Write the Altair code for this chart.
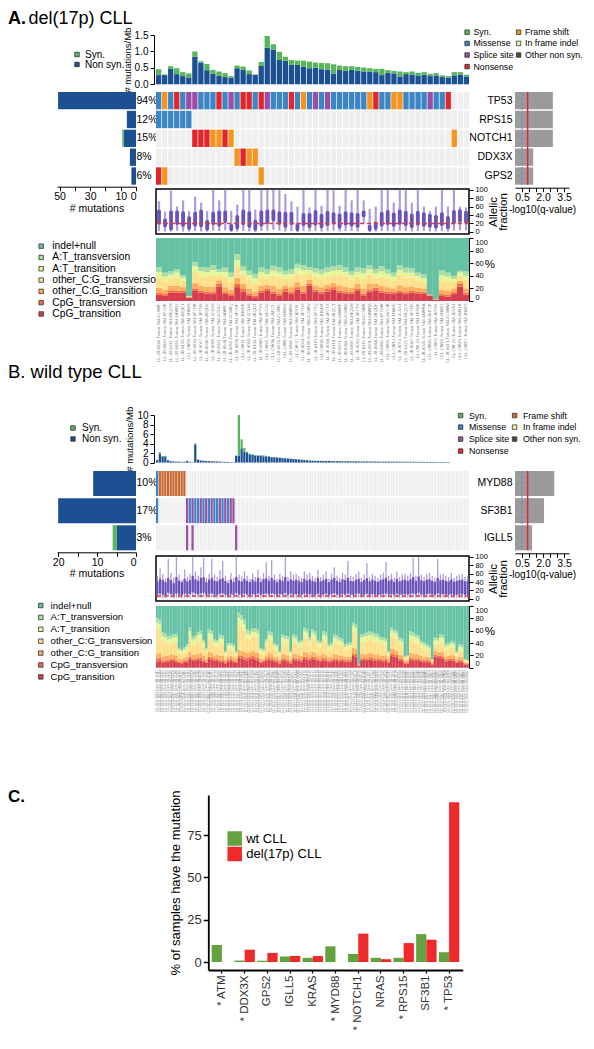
import altair as alt
import pandas as pd

FONT = "Liberation Sans"

# ---------------- colours / categories ----------------
COL_SYN = "#58b55b"
COL_NONSYN = "#1d4f93"
SYN_DOMAIN = ["Syn.", "Non syn."]
MUT_TYPES = ["Syn.", "Missense", "Splice site", "Nonsense", "Frame shift", "In frame indel", "Other non syn."]
MUT_COLS_A = ["#58b55b", "#3c86c6", "#9a4ea5", "#e3252c", "#f7941f", "#f5f39c", "#57473a"]
MUT_COLS_B = ["#58b55b", "#3c86c6", "#9a4ea5", "#e3252c", "#c6682f", "#f5f39c", "#57473a"]
CODE = {"M": "Missense", "F": "Frame shift", "N": "Nonsense", "S": "Splice site"}
SPEC_LEGEND = ["indel+null", "A:T_transversion", "A:T_transition", "other_C:G_transversion",
               "other_C:G_transition", "CpG_transversion", "CpG_transition"]
SPEC_COLS = ["#66c2a5", "#abdda4", "#e6f598", "#fee08b", "#fdae61", "#f46d43", "#d53e4f"]

# ---------------- Panel A : del(17p) CLL ----------------
A_label = ["A.", "del(17p) CLL"]
A_samples = [
    "LL-JB-8038-Tumor-SM-4C5WF", "LL-JB-8049-Tumor-SM-3P7UK", "LL-JB-8132-Tumor-SM-4BQCH",
    "LL-JB-8065-Tumor-SM-4AWR2", "LL-JB-8126-Tumor-SM-4BQE1", "CLL-CW20-Tumor-SM-1N8E8",
    "LL-JB-8033-Tumor-SM-3P7UB", "LL-JB-8047-Tumor-SM-3P7U8", "LL-JB-8036-Tumor-SM-4BQD9",
    "LL-JB-8085-Tumor-SM-4C5X3", "LL-JB-8041-Tumor-SM-4C5XC", "LL-JB-8048-Tumor-SM-4AWRJ",
    "LL-JB-8052-Tumor-SM-4C5WQ", "LL-JB-8096-Tumor-SM-3P7UF", "CLL-CW11-Tumor-SM-1N8DK",
    "LL-JB-8060-Tumor-SM-4C5X8", "LL-JB-8103-Tumor-SM-4BQDT", "LL-JB-8080-Tumor-SM-3P7V2",
    "CLL-CW25-Tumor-SM-2A7OD", "CLL-CW36-Tumor-SM-2M7ZL", "LL-JB-8078-Tumor-SM-4C5WZ",
    "CLL-CW8-Tumor-SM-1N8EG", "LL-JB-8089-Tumor-SM-4AWR5", "LL-CW-17-Tumor-SM-1EV9L",
    "LL-JB-8043-Tumor-SM-3P7U3", "LL-JB-8105-Tumor-SM-4C5WU", "LL-JB-8110-Tumor-SM-3P7TQ",
    "CLL-CW18-Tumor-SM-1N8ER", "LL-JB-8058-Tumor-SM-3P7TX", "LL-JB-8118-Tumor-SM-4BQCT",
    "LL-JB-8071-Tumor-SM-4AWRF", "LL-JB-8063-Tumor-SM-4C5WD", "LL-JB-8099-Tumor-SM-4BQDN",
    "LL-JB-8092-Tumor-SM-3P7TV", "LL-JB-8115-Tumor-SM-4C5WK", "LL-JB-8101-Tumor-SM-4AWR8",
    "LL-JB-8068-Tumor-SM-4BQDF", "LL-JB-8055-Tumor-SM-3P7UW", "CLL-CW29-Tumor-SM-2A7OB",
    "CLL-CW14-Tumor-SM-1N8D5", "LL-JB-8074-Tumor-SM-4C5X1", "LL-JB-8122-Tumor-SM-4BQCX",
    "LL-JB-8087-Tumor-SM-3P7U5", "LL-CW-24-Tumor-SM-1EV8K", "LL-JB-8045-Tumor-SM-4AWRA",
    "CLL-CW33-Tumor-SM-2M7ZP", "LL-CW-5-Tumor-SM-1EV54", "CLL-CW22-Tumor-SM-1N8E2",
    "LL-JB-8113-Tumor-SM-4C5WM", "LL-CW-19-Tumor-SM-1EV61", "CLL-CW40-Tumor-SM-2M81A",
    "CLL-CW27-Tumor-SM-1N8F5",
]
A_rate_nonsyn = [0.28, 0.28, 0.47, 0.31, 0.25, 0.21, 0.84, 0.66, 0.43, 0.32,
                 0.26, 0.22, 0.20, 0.49, 0.45, 0.31, 0.29, 0.56, 1.11, 1.05,
                 0.74, 0.72, 0.59, 0.59, 0.53, 0.49, 0.51, 0.46, 0.44, 0.33,
                 0.44, 0.41, 0.44, 0.41, 0.39, 0.39, 0.37, 0.28, 0.35, 0.33,
                 0.24, 0.31, 0.30, 0.27, 0.29, 0.25, 0.27, 0.22, 0.20, 0.27,
                 0.30, 0.24]
A_rate_syn = [0.18, 0.02, 0.08, 0.18, 0.12, 0.12, 0.16, 0.04, 0.19, 0.12,
              0.13, 0.12, 0.05, 0.08, 0.09, 0.11, 0.01, 0.12, 0.36, 0.17,
              0.25, 0.12, 0.15, 0.13, 0.19, 0.20, 0.15, 0.19, 0.20, 0.28,
              0.13, 0.14, 0.11, 0.12, 0.12, 0.10, 0.10, 0.19, 0.08, 0.08,
              0.15, 0.06, 0.09, 0.08, 0.08, 0.07, 0.07, 0.05, 0.05, 0.10,
              0.07, 0.05]
A_genes = ["TP53", "RPS15", "NOTCH1", "DDX3X", "GPS2"]
A_pct = ["94%", "12%", "15%", "8%", "6%"]
A_count_nonsyn = [51, 6, 8, 4, 3]
A_count_syn = [0, 0, 1, 0, 0]
A_qval = [2.7, 2.7, 2.7, 1.3, 1.3]
A_TP53 = "MFMNMSSMMM NMSMNNMNSM MMNMFMSMSM MMMMMFNMMF FMMMMSMMN. .."
A_other = {
    "RPS15": {1: "M", 2: "M", 3: "M", 4: "M", 5: "M", 6: "M"},
    "NOTCH1": {7: "N", 8: "N", 9: "N", 10: "F", 11: "F", 12: "N", 13: "F", 50: "F"},
    "DDX3X": {14: "F", 15: "N", 16: "F", 17: "F"},
    "GPS2": {1: "N", 2: "F", 18: "F"},
}
A_af_lo = [2, 1, 1, 3, 1, 1, 2, 1, 1, 3, 2, 4, 0, 1, 2, 1, 0, 2, 3, 5, 3, 1, 2, 0, 2, 1,
           2, 1, 2, 3, 1, 2, 2, 1, 20, 0, 1, 2, 2, 1, 3, 2, 1, 2, 2, 1, 1, 2, 1, 3, 4, 3]
A_af_q1 = [18, 11, 4, 17, 12, 5, 13, 11, 3, 16, 13, 21, 2, 6, 16, 10, 3, 13, 19, 25, 17, 10, 16, 2, 14, 9,
           15, 9, 14, 18, 8, 15, 13, 10, 35, 2, 5, 13, 16, 12, 17, 14, 9, 15, 12, 10, 8, 14, 6, 18, 22, 19]
A_af_q3 = [53, 32, 51, 51, 49, 37, 48, 53, 28, 48, 51, 51, 19, 40, 53, 49, 29, 51, 53, 53, 49, 48, 48, 21, 45, 45,
           52, 43, 50, 47, 44, 49, 47, 45, 51, 17, 25, 48, 52, 46, 53, 50, 44, 50, 47, 43, 40, 47, 38, 52, 54, 50]
A_af_hi = [73, 48, 98, 60, 75, 50, 84, 70, 50, 100, 75, 100, 50, 65, 100, 100, 53, 100, 100, 100, 100, 90, 73, 60, 100, 58,
           100, 62, 100, 100, 62, 100, 75, 100, 75, 55, 60, 100, 100, 70, 100, 100, 70, 100, 60, 50, 60, 100, 60, 100, 60, 58]
A_af_cut = [20]
A_spec = {
    "CpG_transition": [10, 8, 13, 13, 13, 5, 16, 13, 12, 11, 23, 11, 8, 22, 15, 9, 6, 13, 16, 12, 8, 15, 11, 18, 12, 24,
                       15, 12, 15, 18, 13, 12, 11, 16, 9, 15, 17, 13, 12, 11, 13, 11, 13, 12, 11, 8, 2, 8, 7, 11, 23, 10],
    "CpG_transversion": [3, 3, 4, 3, 3, 1, 4, 3, 3, 3, 4, 3, 3, 5, 4, 3, 2, 3, 4, 3, 3, 4, 3, 4, 3, 4,
                         3, 3, 4, 4, 3, 3, 3, 4, 3, 3, 4, 3, 3, 3, 3, 3, 3, 3, 3, 1, 0, 3, 3, 3, 4, 3],
    "other_C:G_transition": [8, 7, 7, 8, 6, 1, 9, 8, 8, 9, 6, 8, 7, 10, 8, 7, 7, 8, 6, 9, 8, 6, 8, 8, 9, 6,
                             7, 7, 7, 7, 9, 8, 7, 7, 8, 9, 6, 8, 7, 6, 9, 8, 7, 6, 6, 1, 1, 7, 7, 6, 5, 7],
    "other_C:G_transversion": [16, 13, 12, 13, 10, 1, 17, 15, 15, 17, 8, 16, 13, 18, 14, 14, 13, 14, 10, 16, 17, 11, 14, 14, 17, 10,
                               13, 13, 13, 12, 16, 15, 13, 12, 16, 15, 10, 15, 14, 12, 16, 15, 14, 12, 10, 0, 0, 15, 14, 10, 8, 13],
    "A:T_transition": [9, 8, 6, 8, 5, 0, 9, 8, 8, 9, 5, 8, 7, 10, 7, 8, 8, 8, 7, 8, 9, 6, 7, 8, 8, 5,
                       7, 8, 7, 7, 8, 8, 7, 7, 8, 8, 7, 8, 7, 7, 8, 8, 8, 7, 6, 0, 0, 8, 8, 5, 5, 7],
    "A:T_transversion": [8, 6, 5, 5, 4, 0, 7, 7, 7, 8, 4, 7, 7, 9, 7, 7, 7, 7, 7, 8, 9, 6, 7, 7, 8, 5,
                         7, 7, 7, 7, 8, 8, 6, 7, 8, 7, 7, 8, 7, 6, 8, 8, 7, 5, 6, 0, 0, 8, 6, 5, 3, 7],
}

# ---------------- Panel B : wild type CLL ----------------
B_label = ["B. wild type CLL"]
B_samples = [
    "CLL-GCLL-0003-Tumor-SM-41JA1", "CLL-GCLL-0011-Tumor-SM-41JB4", "CLL-GCLL-0015-Tumor-SM-41JC7", "CLL-GCLL-0019-Tumor-SM-41JD2", "CLL-GCLL-0024-Tumor-SM-41JE9",
    "CLL-GCLL-0027-Tumor-SM-41JF3", "CLL-GCLL-0031-Tumor-SM-41JG6", "CLL-GCLL-0036-Tumor-SM-41JH8", "CLL-GCLL-0040-Tumor-SM-41JK5", "CLL-GCLL-0044-Tumor-SM-41JL2",
    "CLL-GCLL-0048-Tumor-SM-41JM7", "CLL-GCLL-0052-Tumor-SM-41JN1", "CLL-GCLL-0055-Tumor-SM-41JP4", "CLL-GCLL-0059-Tumor-SM-41JQ9", "CLL-GCLL-0062-Tumor-SM-41JR3",
    "CLL-GCLL-0066-Tumor-SM-41JS6", "CLL-GCLL-0070-Tumor-SM-41JT8", "CLL-GCLL-0073-Tumor-SM-41JU2", "CLL-GCLL-0077-Tumor-SM-41JV5", "CLL-GCLL-0081-Tumor-SM-41JW7",
    "CLL-GCLL-0084-Tumor-SM-41JX1", "CLL-GCLL-0088-Tumor-SM-41JY4", "CLL-GCLL-0092-Tumor-SM-41JZ6", "CLL-GCLL-0095-Tumor-SM-41K12", "CLL-GCLL-0099-Tumor-SM-41K25",
    "CLL-GCLL-0103-Tumor-SM-41K38", "CLL-GCLL-0106-Tumor-SM-41K41", "CLL-GCLL-0110-Tumor-SM-41K57", "CLL-GCLL-0113-Tumor-SM-41K63", "CLL-GCLL-0117-Tumor-SM-41K79",
    "CLL-GCLL-0121-Tumor-SM-41K84", "CLL-GCLL-0124-Tumor-SM-41K92", "CLL-GCLL-0128-Tumor-SM-41KA3", "CLL-GCLL-0132-Tumor-SM-41KB6", "CLL-GCLL-0135-Tumor-SM-41KC1",
    "CLL-GCLL-0139-Tumor-SM-41KD8", "CLL-GCLL-0143-Tumor-SM-41KE2", "CLL-GCLL-0146-Tumor-SM-41KF5", "CLL-GCLL-0150-Tumor-SM-41KG9", "CLL-GCLL-0154-Tumor-SM-41KH3",
    "CLL-GCLL-0157-Tumor-SM-41KJ7", "CLL-GCLL-0161-Tumor-SM-41KK4", "CLL-GCLL-0165-Tumor-SM-41KL1", "CLL-GCLL-0168-Tumor-SM-41KM6", "CLL-GCLL-0172-Tumor-SM-41KN8",
    "CLL-GCLL-0176-Tumor-SM-41KP2", "CLL-GCLL-0179-Tumor-SM-41KQ5", "CLL-GCLL-0183-Tumor-SM-41KR9", "CLL-GCLL-0187-Tumor-SM-41KS3", "CLL-GCLL-0190-Tumor-SM-41KT7",
    "CLL-GCLL-0194-Tumor-SM-41KU1", "CLL-GCLL-0198-Tumor-SM-41KV4", "CLL-GCLL-0201-Tumor-SM-41KW8", "CLL-GCLL-0205-Tumor-SM-41KX2", "CLL-GCLL-0209-Tumor-SM-41KY6",
    "CLL-GCLL-0212-Tumor-SM-41KZ9", "CLL-GCLL-0216-Tumor-SM-41L13", "CLL-GCLL-0220-Tumor-SM-41L27", "CLL-GCLL-0223-Tumor-SM-41L34", "CLL-GCLL-0227-Tumor-SM-41L48",
    "CLL-GCLL-0231-Tumor-SM-41L52", "CLL-GCLL-0234-Tumor-SM-41L69", "CLL-GCLL-0238-Tumor-SM-41L71", "CLL-GCLL-0242-Tumor-SM-41L86", "CLL-GCLL-0245-Tumor-SM-41L95",
    "CLL-GCLL-0249-Tumor-SM-41LA2", "CLL-GCLL-0253-Tumor-SM-41LB7", "CLL-GCLL-0256-Tumor-SM-41LC3", "CLL-GCLL-0260-Tumor-SM-41LD9", "CLL-GCLL-0264-Tumor-SM-41LE4",
    "CLL-GCLL-0267-Tumor-SM-41LF1", "CLL-GCLL-0271-Tumor-SM-41LG8", "CLL-GCLL-0275-Tumor-SM-41LH5", "CLL-GCLL-0278-Tumor-SM-41LJ2", "CLL-GCLL-0282-Tumor-SM-41LK6",
    "CLL-GCLL-0286-Tumor-SM-41LL9", "CLL-GCLL-0289-Tumor-SM-41LM3", "CLL-GCLL-0293-Tumor-SM-41LN7", "CLL-GCLL-0297-Tumor-SM-41LP1", "CLL-GCLL-0300-Tumor-SM-41LQ4",
    "CLL-GCLL-0304-Tumor-SM-41LR8", "CLL-GCLL-0308-Tumor-SM-41LS2", "CLL-GCLL-0311-Tumor-SM-41LT6", "CLL-GCLL-0315-Tumor-SM-41LU9", "CLL-GCLL-0319-Tumor-SM-41LV3",
    "CLL-GCLL-0322-Tumor-SM-41LW7", "CLL-GCLL-0326-Tumor-SM-41LX1", "CLL-GCLL-0330-Tumor-SM-41LY5", "CLL-GCLL-0333-Tumor-SM-41LZ8", "CLL-GCLL-0337-Tumor-SM-41M14",
    "CLL-GCLL-0341-Tumor-SM-41M28", "CLL-GCLL-0344-Tumor-SM-41M33", "CLL-GCLL-0348-Tumor-SM-41M47", "CLL-GCLL-0352-Tumor-SM-41M51", "CLL-GCLL-0355-Tumor-SM-41M66",
    "CLL-GCLL-0359-Tumor-SM-41M72", "CLL-GCLL-0363-Tumor-SM-41M89", "CLL-GCLL-0366-Tumor-SM-41M93", "CLL-GCLL-0370-Tumor-SM-41MA5", "CLL-GCLL-0374-Tumor-SM-41MB1",
    "CLL-GCLL-0377-Tumor-SM-41MC8", "CLL-GCLL-0381-Tumor-SM-41MD4", "CLL-GCLL-0385-Tumor-SM-41ME7", "CLL-GCLL-0388-Tumor-SM-41MF2", "CLL-GCLL-0392-Tumor-SM-41MG6",
    "CLL-GCLL-0396-Tumor-SM-41MH9", "CLL-GCLL-0399-Tumor-SM-41MJ3", "CLL-GCLL-0403-Tumor-SM-41MK8", "CLL-GCLL-0407-Tumor-SM-41ML2", "CLL-GCLL-0410-Tumor-SM-41MM5",
    "CLL-GCLL-0414-Tumor-SM-41MN9", "CLL-GCLL-0418-Tumor-SM-41MP4", "CLL-GCLL-0421-Tumor-SM-41MQ7", "CLL-GCLL-0425-Tumor-SM-41MR1", "CLL-GCLL-0429-Tumor-SM-41MS6",
]
B_rate_nonsyn = [0.5, 1.9, 1.3, 1.3, 0.5, 0.3, 0.25, 0.2, 0.2, 0.15,
                 0.2, 0.35, 0.15, 0.1, 3.8, 0.6, 0.45, 0.4, 0.35, 0.3,
                 0.3, 0.25, 0.25, 0.2, 0.2, 0.15, 0.15, 0.1, 0.1, 1.4,
                 1.5, 3.0, 2.3, 2.0, 1.7, 1.6, 1.5, 1.45, 1.4, 1.35,
                 1.3, 1.25, 1.15, 1.1, 1.05, 1.0, 0.95, 0.9, 0.85, 0.8,
                 0.75, 0.7, 0.65, 0.6, 0.55, 0.5, 0.45, 0.4, 0.38, 0.37,
                 0.36, 0.35, 0.34, 0.33, 0.32, 0.31, 0.3, 0.3, 0.29, 0.28,
                 0.28, 0.27, 0.27, 0.26, 0.26, 0.25, 0.25, 0.24, 0.24, 0.23,
                 0.23, 0.22, 0.22, 0.21, 0.21, 0.2, 0.2, 0.2, 0.19, 0.19,
                 0.18, 0.18, 0.18, 0.17, 0.17, 0.16, 0.16, 0.16, 0.15, 0.15,
                 0.14, 0.14, 0.13, 0.13, 0.12, 0.12, 0.11, 0.1, 0, 0,
                 0, 0, 0, 0, 0]
B_rate_syn = [0.1, 0.3, 0.1, 0.05, 0.05, 0, 0, 0, 0, 0,
              0, 0.05, 0, 0, 0.2, 0.05, 0, 0, 0, 0,
              0, 0, 0, 0, 0, 0, 0, 0, 0, 0.1,
              8.5, 1.9, 0.8, 0.3, 0.2, 0.15, 0.1, 0.1, 0.15, 0.2,
              0.1, 0.15, 0.05, 0.1, 0.05, 0.05, 0.05, 0.1, 0.05, 0.05,
              0.05, 0, 0.05, 0.05, 0, 0.05, 0, 0.05, 0, 0,
              0.05, 0, 0, 0.05, 0, 0, 0, 0.05, 0, 0,
              0, 0, 0.05, 0, 0, 0, 0, 0, 0.05, 0,
              0, 0, 0, 0, 0, 0.05, 0, 0, 0, 0,
              0, 0, 0, 0, 0, 0, 0, 0, 0, 0,
              0, 0, 0, 0, 0, 0, 0, 0, 0, 0,
              0, 0, 0, 0, 0]
B_genes = ["MYD88", "SF3B1", "IGLL5"]
B_pct = ["10%", "17%", "3%"]
B_count_nonsyn = [11, 20, 5]
B_count_syn = [0, 0, 1]
B_qval = [2.8, 2.07, 1.22]
B_cells = {
    "MYD88": {1: "M", 2: "F", 3: "F", 4: "F", 5: "F", 6: "F", 7: "F", 8: "F", 9: "F", 10: "F", 11: "F"},
    "SF3B1": {1: "M", 12: "S", 13: "M", 14: "S", 15: "M", 16: "M", 17: "S", 18: "M", 19: "S", 20: "M",
              21: "S", 22: "M", 23: "M", 24: "S", 25: "M", 26: "S", 27: "M", 28: "S", 29: "S"},
    "IGLL5": {12: "S", 14: "S", 30: "S"},
}
B_af_lo = [2, 3, 1, 1, 4, 2, 1, 3, 2, 1, 3, 2, 2, 4, 3, 2, 3, 4, 1, 2, 3, 2, 1, 3, 3, 2, 1, 2, 1, 4,
           2, 1, 3, 2, 1, 2, 1, 3, 1, 2, 3, 2, 3, 2, 1, 2, 2, 4, 1, 3,
           2, 2, 2, 1, 3, 2, 2, 2, 1, 3, 1, 2, 3, 1, 2, 3, 2, 1, 2, 2,
           3, 2, 1, 2, 3, 1, 2, 3, 1, 2, 2, 1, 2, 2, 3, 2, 2, 1, 3, 2,
           2, 2, 2, 2, 3, 2, 4, 2, 1, 2, 3, 2, 1, 3, 2, 2, 2, 1, 2, 1, 2, 2, 2, 1, 2]
B_af_q1 = [10, 12, 9, 8, 14, 11, 9, 13, 10, 8, 12, 10, 11, 15, 12, 10, 13, 14, 9, 11, 13, 10, 9, 12, 13, 10, 8, 11, 9, 14,
           10, 9, 12, 10, 8, 11, 9, 13, 9, 11, 12, 10, 13, 11, 9, 11, 10, 14, 9, 12,
           10, 11, 10, 9, 12, 10, 11, 10, 9, 12, 9, 10, 12, 8, 11, 13, 10, 9, 11, 10,
           13, 10, 9, 11, 12, 9, 10, 12, 9, 11, 10, 9, 10, 11, 13, 10, 11, 9, 12, 10,
           10, 11, 10, 11, 13, 10, 14, 10, 9, 11, 12, 10, 9, 13, 10, 11, 10, 9, 11, 9, 10, 10, 11, 9, 10]
B_af_q3 = [42, 48, 45, 40, 50, 45, 38, 52, 44, 40, 48, 42, 45, 55, 47, 43, 50, 52, 40, 46, 50, 44, 42, 47, 49, 43, 38, 46, 41, 52,
           44, 42, 48, 43, 40, 46, 42, 50, 41, 47, 49, 43, 50, 45, 40, 46, 43, 52, 42, 47,
           44, 46, 43, 41, 48, 44, 47, 43, 41, 50, 42, 45, 48, 40, 46, 50, 43, 41, 47, 45,
           50, 43, 42, 46, 48, 41, 45, 49, 42, 46, 43, 41, 45, 47, 50, 43, 46, 41, 48, 42,
           45, 46, 43, 47, 52, 43, 53, 45, 42, 46, 47, 43, 41, 50, 45, 46, 43, 42, 47, 41, 43, 45, 46, 42, 43]
B_af_hi = [55, 72, 60, 48, 95, 62, 50, 100, 58, 45, 70, 52, 60, 100, 65, 55, 75, 98, 50, 60, 95, 58, 52, 68, 90, 55, 45, 62, 50, 100,
           58, 53, 66, 55, 48, 60, 52, 70, 50, 62, 88, 55, 92, 58, 48, 60, 55, 100, 52, 66,
           58, 60, 55, 50, 65, 58, 62, 55, 50, 70, 52, 58, 66, 48, 60, 75, 55, 50, 62, 58,
           90, 55, 52, 60, 65, 50, 58, 85, 52, 60, 55, 50, 58, 62, 88, 55, 60, 50, 65, 52,
           58, 60, 55, 62, 98, 55, 100, 58, 52, 60, 62, 55, 50, 95, 58, 60, 55, 52, 62, 50, 55, 58, 60, 52, 55]
B_af_cut = [7]
B_spec = {
    "CpG_transition": [10, 12, 8, 9, 10, 12, 11, 9, 8, 7, 10, 9, 14, 12, 11, 13, 12, 10, 8, 14,
                       13, 11, 12, 9, 10, 7, 10, 11, 9, 8, 16, 15, 13, 12, 14, 15, 13, 12, 8, 9,
                       11, 13, 12, 10, 9, 7, 12, 11, 10, 7, 13, 12, 11, 10, 14, 13, 12, 14, 13, 11,
                       10, 12, 11, 9, 10, 12, 11, 10, 11, 9, 10, 10, 19, 18, 3, 12, 13, 12, 13, 12,
                       11, 12, 11, 10, 11, 8, 19, 18, 17, 12, 11, 6, 7, 13, 12, 12, 11, 10, 9, 10,
                       9, 5, 18, 17, 16, 15, 10, 11, 12, 11, 8, 10, 9, 5, 4],
    "CpG_transversion": [4, 4, 3, 3, 3, 3, 3, 3, 2, 2, 2, 3, 4, 3, 3, 3, 4, 3, 2, 4,
                         4, 3, 3, 3, 3, 2, 3, 3, 3, 2, 4, 4, 4, 4, 4, 4, 4, 4, 2, 2,
                         3, 4, 3, 3, 3, 2, 3, 3, 3, 2, 3, 3, 3, 3, 4, 4, 3, 4, 4, 3,
                         3, 4, 3, 3, 3, 3, 3, 3, 3, 3, 3, 3, 4, 4, 1, 3, 3, 3, 4, 4,
                         3, 3, 3, 3, 3, 2, 4, 4, 4, 3, 3, 2, 2, 4, 3, 3, 3, 3, 3, 3,
                         3, 2, 3, 3, 3, 3, 3, 3, 3, 3, 2, 3, 3, 2, 2],
    "other_C:G_transition": [9, 8, 7, 7, 6, 7, 7, 8, 5, 5, 5, 6, 8, 6, 7, 7, 8, 6, 5, 8,
                             7, 6, 6, 7, 7, 4, 5, 5, 5, 4, 9, 9, 9, 8, 7, 8, 8, 8, 5, 4,
                             6, 7, 7, 5, 5, 4, 7, 7, 7, 4, 7, 7, 6, 6, 8, 8, 6, 8, 7, 6,
                             6, 7, 7, 5, 5, 7, 7, 6, 6, 5, 5, 5, 9, 9, 1, 7, 7, 7, 7, 7,
                             7, 7, 6, 6, 6, 4, 8, 8, 7, 6, 6, 3, 3, 7, 7, 7, 7, 6, 5, 5,
                             5, 2, 6, 6, 7, 7, 5, 5, 6, 6, 4, 5, 5, 2, 2],
    "other_C:G_transversion": [40, 37, 25, 22, 19, 17, 20, 22, 9, 9, 8, 11, 24, 17, 18, 21, 22, 15, 9, 22,
                               22, 15, 13, 21, 19, 7, 12, 11, 11, 6, 40, 38, 34, 24, 21, 23, 25, 24, 9, 8,
                               15, 21, 21, 12, 11, 7, 19, 18, 18, 7, 18, 17, 13, 15, 25, 24, 16, 22, 21, 14,
                               13, 22, 22, 11, 12, 19, 18, 18, 15, 11, 12, 13, 27, 25, 0, 19, 19, 21, 21, 21,
                               21, 19, 18, 18, 16, 6, 21, 19, 19, 16, 15, 4, 4, 21, 21, 19, 18, 14, 14, 10,
                               10, 3, 12, 12, 16, 16, 10, 11, 12, 12, 6, 10, 10, 3, 2],
    "A:T_transition": [10, 10, 8, 8, 8, 8, 8, 8, 5, 4, 5, 5, 9, 7, 8, 8, 8, 7, 5, 8,
                       8, 7, 7, 8, 8, 4, 6, 6, 6, 4, 12, 11, 11, 8, 8, 8, 8, 8, 5, 4,
                       7, 8, 8, 6, 6, 4, 8, 8, 8, 4, 8, 8, 6, 7, 8, 8, 7, 8, 8, 7,
                       7, 8, 8, 6, 6, 8, 8, 7, 7, 6, 6, 6, 8, 8, 0, 8, 8, 8, 8, 8,
                       8, 8, 7, 7, 7, 4, 8, 8, 8, 7, 7, 2, 2, 8, 8, 8, 8, 6, 6, 6,
                       5, 1, 6, 6, 7, 7, 6, 6, 6, 6, 4, 6, 6, 1, 1],
    "A:T_transversion": [7, 7, 6, 6, 5, 5, 5, 5, 3, 3, 3, 4, 6, 5, 5, 6, 6, 4, 3, 6,
                         6, 4, 4, 6, 5, 3, 4, 4, 4, 3, 8, 8, 7, 6, 6, 6, 6, 6, 3, 3,
                         4, 6, 6, 4, 4, 3, 5, 5, 5, 3, 5, 5, 4, 4, 6, 6, 5, 6, 6, 4,
                         4, 6, 6, 4, 4, 5, 5, 5, 5, 4, 4, 4, 6, 6, 0, 5, 5, 6, 6, 6,
                         6, 5, 5, 5, 5, 3, 5, 5, 5, 5, 5, 2, 2, 6, 6, 5, 5, 4, 4, 4,
                         4, 1, 4, 4, 5, 5, 4, 4, 4, 4, 3, 4, 4, 1, 1],
}

# ---------------- Panel C ----------------
C_label = ["C."]
C_genes = ["*  ATM", "*  DDX3X", "GPS2", "IGLL5", "KRAS", "*  MYD88", "*  NOTCH1",
           "NRAS", "*  RPS15", "SF3B1", "*  TP53"]
C_groups = ["wt CLL", "del(17p) CLL"]
C_wt = [10.1, 0.9, 0.8, 3.3, 2.5, 9.3, 4.8, 2.5, 2.5, 16.5, 5.8]
C_del = [0, 7.3, 5.4, 3.6, 3.6, 0, 16.8, 1.7, 11.2, 13.2, 94.4]
C_cols = ["#63a23f", "#ee2a2a"]

Q_TICKS = [0.5, 1.0, 1.5, 2.0, 2.5, 3.0, 3.5]
Q_LABELLED = [0.5, 2.0, 3.5]
Q_DASH = [0.5]
Q_CUT = [0.9]

for lst in [A_rate_nonsyn, A_rate_syn, A_af_lo, A_af_q1, A_af_q3, A_af_hi] + list(A_spec.values()):
    assert len(lst) == len(A_samples), len(lst)
for lst in [B_rate_nonsyn, B_rate_syn, B_af_lo, B_af_q1, B_af_q3, B_af_hi] + list(B_spec.values()):
    assert len(lst) == len(B_samples), len(lst)
assert len(A_TP53.replace(" ", "")) == len(A_samples)

# ---------------- layout sizes ----------------
COLW = [79, 19.3, 313, 46, 54]


def spacer(w, h):
    return alt.Chart(pd.DataFrame({"s": [0]})).mark_point(opacity=0, size=1).encode(
        x=alt.value(0), y=alt.value(0)).properties(width=w, height=h)


def text_cell(items, w, h):
    layers = []
    for txt, x, y, size, weight, base in items:
        layers.append(alt.Chart(pd.DataFrame({"t": [txt]})).mark_text(
            align="left", baseline=base, fontSize=size, fontWeight=weight, font=FONT,
            color="black").encode(text="t:N", x=alt.value(x), y=alt.value(y)))
    return alt.layer(*layers).properties(width=w, height=h)


def xsc(samples, pad):
    return alt.Scale(domain=samples, paddingInner=pad, paddingOuter=0)


def top_bars(samples, ns, sy, ymax, yvals, yfmt, H, xpad, leg):
    rows = []
    for s, a, b in zip(samples, ns, sy):
        rows.append({"sample": s, "type": "Non syn.", "v": a, "o": 0})
        rows.append({"sample": s, "type": "Syn.", "v": b, "o": 1})
    return alt.Chart(pd.DataFrame(rows)).mark_bar().encode(
        x=alt.X("sample:N", sort=samples, scale=xsc(samples, xpad), axis=None),
        y=alt.Y("v:Q", stack="zero", scale=alt.Scale(domain=[0, ymax], nice=False),
                axis=alt.Axis(values=yvals, format=yfmt, title="# mutations/Mb", titleFontSize=9.5,
                              labelFontSize=10, tickSize=4, labelPadding=2, titlePadding=2, offset=2,
                              labelOverlap=False)),
        color=alt.Color("type:N", scale=alt.Scale(domain=SYN_DOMAIN, range=[COL_SYN, COL_NONSYN]),
                        legend=alt.Legend(**leg)),
        order=alt.Order("o:Q"),
    ).properties(width=COLW[2], height=H)


def yband(keys):
    return alt.Scale(domain=keys, paddingInner=0.08, paddingOuter=0)


def left_bars(keys, ns, sy, xmax, ticks, shown, H):
    rows = []
    for k, a, b in zip(keys, ns, sy):
        rows.append({"key": k, "type": "Non syn.", "n": a, "o": 0})
        rows.append({"key": k, "type": "Syn.", "n": b, "o": 1})
    expr = "indexof(%s, datum.value) >= 0 ? datum.label : ''" % str(shown)
    return alt.Chart(pd.DataFrame(rows)).mark_bar().encode(
        y=alt.Y("key:N", sort=keys, scale=yband(keys),
                axis=alt.Axis(orient="right", labelExpr="split(datum.label, '|')[1]", ticks=False,
                              domain=False, labelAlign="left", labelPadding=0, labelFontSize=10.5,
                              title=None)),
        x=alt.X("n:Q", stack="zero", scale=alt.Scale(domain=[0, xmax], reverse=True, nice=False),
                axis=alt.Axis(values=ticks, labelExpr=expr, title="# mutations", titleFontSize=10.5,
                              labelFontSize=10.5, tickSize=4, labelPadding=1, titlePadding=1, offset=2,
                              labelOverlap=False)),
        color=alt.Color("type:N", scale=alt.Scale(domain=SYN_DOMAIN, range=[COL_SYN, COL_NONSYN]),
                        legend=None),
        order=alt.Order("o:Q"),
    ).properties(width=COLW[0], height=H)


def onco(samples, keys, cells, colors, xpad, H, leg):
    bg = pd.DataFrame([{"sample": s, "key": k} for k in keys for s in samples])
    mut = pd.DataFrame(cells)
    xs = alt.X("sample:N", sort=samples, scale=xsc(samples, xpad), axis=None)
    ys = alt.Y("key:N", sort=keys, scale=yband(keys), axis=None)
    base = alt.Chart(bg).mark_rect(color="#efefef").encode(x=xs, y=ys)
    m = alt.Chart(mut).mark_rect().encode(
        x=xs, y=ys,
        color=alt.Color("type:N", scale=alt.Scale(domain=MUT_TYPES, range=colors),
                        legend=alt.Legend(**leg)))
    return alt.layer(base, m).properties(width=COLW[2], height=H)


def qchart(keys, q, H):
    df = pd.DataFrame({"key": keys, "q": q})
    ys = alt.Y("key:N", sort=keys, scale=yband(keys),
               axis=alt.Axis(orient="left", labelExpr="split(datum.label, '|')[0]", ticks=False,
                             domain=False, labelPadding=3, labelFontSize=10.5, title=None))
    expr = "indexof(%s, datum.value) >= 0 ? format(datum.value, '.1f') : ''" % str(Q_LABELLED)
    xax = alt.Axis(values=Q_TICKS, labelExpr=expr, title="-log10(q-value)", titleFontSize=10,
                   labelFontSize=10.5, tickSize=4, labelPadding=1, titlePadding=1, offset=3,
                   labelOverlap=False)
    xq = alt.X("q:Q", scale=alt.Scale(domain=[0, 3.85], nice=False), axis=xax)
    bars = alt.Chart(df).mark_bar(color="#9b9b9b").encode(y=ys, x=xq)
    r1 = alt.Chart(pd.DataFrame({"q": Q_DASH})).mark_rule(
        color="#8582b8", strokeDash=[3, 2], strokeWidth=1.2).encode(x=xq)
    r2 = alt.Chart(pd.DataFrame({"q": Q_CUT})).mark_rule(color="#e3252c", strokeWidth=1.5).encode(x=xq)
    return alt.layer(bars, r1, r2).properties(width=COLW[4], height=H)


def allelic(samples, lo, q1, q3, hi, cut, H, rulew, boxw, rad):
    df = pd.DataFrame({"sample": samples, "lo": lo, "q1": q1, "q3": q3, "hi": hi})
    xs = alt.X("sample:N", sort=samples, scale=xsc(samples, 0), axis=None)
    ysc = alt.Scale(domain=[-5, 102], nice=False, zero=False)
    yax = alt.Axis(orient="right", values=[0, 20, 40, 60, 80, 100], labelOverlap=False, labelFontSize=7.4,
                   tickSize=4, labelPadding=2, domain=False, title=["Allelic", "fraction"],
                   titleAngle=-90, titleFontSize=11.5, titlePadding=1, titleLineHeight=10)
    whisk = alt.Chart(df).mark_rule(color="#a89fdb", strokeWidth=rulew).encode(
        x=xs, y=alt.Y("lo:Q", scale=ysc, axis=yax), y2="hi:Q")
    box = alt.Chart(df).mark_bar(color="#6a52b7", size=boxw, cornerRadius=rad).encode(
        x=xs, y=alt.Y("q1:Q", scale=ysc, axis=yax), y2="q3:Q")
    cutl = alt.Chart(pd.DataFrame({"lo": cut})).mark_rule(
        color="#e8343c", strokeDash=[4, 3], strokeWidth=1.6).encode(y=alt.Y("lo:Q", scale=ysc, axis=yax))
    return alt.layer(whisk, box, cutl).properties(
        width=COLW[2], height=H, view=alt.ViewBackground(stroke="black", strokeWidth=1.5))


def spectrum(samples, spec, H, lab_font, leg):
    order_bottom_up = SPEC_LEGEND[::-1]
    rows = []
    for i, s in enumerate(samples):
        used = 0
        for j, cat in enumerate(order_bottom_up[:-1]):
            v = spec[cat][i]
            used += v
            rows.append({"sample": s, "cat": cat, "v": v, "o": j})
        rows.append({"sample": s, "cat": "indel+null", "v": 100 - used, "o": 6})
    return alt.Chart(pd.DataFrame(rows)).mark_bar().encode(
        x=alt.X("sample:N", sort=samples, scale=xsc(samples, 0),
                axis=alt.Axis(labelAngle=-90, labelFontSize=lab_font, labelColor="#808080", ticks=False,
                              domain=False, labelPadding=2, title=None)),
        y=alt.Y("v:Q", stack="zero", scale=alt.Scale(domain=[0, 100], nice=False),
                axis=alt.Axis(orient="right", values=[0, 20, 40, 60, 80, 100], labelFontSize=7.4, tickSize=4,
                              labelPadding=2, labelOverlap=False, labelFlush=True, title="%", titleAngle=0,
                              titleFontSize=11.5, titlePadding=2)),
        color=alt.Color("cat:N", scale=alt.Scale(domain=SPEC_LEGEND, range=SPEC_COLS), legend=alt.Legend(**leg)),
        order=alt.Order("o:Q"),
    ).properties(width=COLW[2], height=H)


def legend_small(x, y, rowpad, offset, extra=None):
    d = dict(orient="none", legendX=x, legendY=y, title=None, symbolType="square", symbolSize=20,
             symbolStrokeColor="#333333", symbolStrokeWidth=0.8, labelFontSize=10, labelFont=FONT,
             rowPadding=rowpad, labelOffset=offset, padding=0)
    if extra:
        d.update(extra)
    return d


# ---------------- build panel pieces ----------------
A_keys = [g + "|" + p for g, p in zip(A_genes, A_pct)]
B_keys = [g + "|" + p for g, p in zip(B_genes, B_pct)]

A_cells = []
for i, c in enumerate(A_TP53.replace(" ", "")):
    if c in CODE:
        A_cells.append({"sample": A_samples[i], "key": A_keys[0], "type": CODE[c]})
for g, d in A_other.items():
    k = A_keys[A_genes.index(g)]
    for sidx, c in d.items():
        A_cells.append({"sample": A_samples[sidx - 1], "key": k, "type": CODE[c]})

B_cells_list = []
for g, d in B_cells.items():
    k = B_keys[B_genes.index(g)]
    for sidx, c in d.items():
        B_cells_list.append({"sample": B_samples[sidx - 1], "key": k, "type": CODE[c]})

topA = top_bars(A_samples, A_rate_nonsyn, A_rate_syn, 1.5, [0, 0.5, 1.0, 1.5], ".1f", 49.3, 0.12,
                legend_small(-84, 14.5, -2, 3))
leftA = left_bars(A_keys, A_count_nonsyn, A_count_syn, 51.7, [0, 10, 20, 30, 40, 50], [50, 30, 10, 0], 92.7)
oncoA = onco(A_samples, A_keys, A_cells, MUT_COLS_A, 0.12, 92.7,
             legend_small(306.7, -64.6, 1.6, 2, {"columns": 2, "columnPadding": 0.5, "labelFontSize": 8.8}))
qA = qchart(A_keys, A_qval, 92.7)
afA = allelic(A_samples, A_af_lo, A_af_q1, A_af_q3, A_af_hi, A_af_cut, 45, 2.2, 3.8, 1.8)
specA_leg = legend_small(-120, 3, 0.3, 6, {"labelFontSize": 10.3,
                                           "labelExpr": "datum.label == 'other_C:G_transversion' ? 'other_C:G_transversio' : datum.label"})
specA = spectrum(A_samples, A_spec, 63, 4.2, specA_leg)

topB = top_bars(B_samples, B_rate_nonsyn, B_rate_syn, 10, [0, 2, 4, 6, 8, 10], "d", 47.6, 0.18,
                legend_small(-88, 8, 1, 4))
leftB = left_bars(B_keys, B_count_nonsyn, B_count_syn, 20.3, [0, 5, 10, 15, 20], [20, 10, 0], 79.3)
oncoB = onco(B_samples, B_keys, B_cells_list, MUT_COLS_B, 0.18, 79.3,
             legend_small(300.2, -60.3, 2, 4, {"columns": 2, "columnPadding": 1, "labelFontSize": 8.8}))
qB = qchart(B_keys, B_qval, 79.3)
afB = allelic(B_samples, B_af_lo, B_af_q1, B_af_q3, B_af_hi, B_af_cut, 45, 1.3, 2.3, 1)
specB = spectrum(B_samples, B_spec, 61.7, 2.7, legend_small(-120, -5.3, 0.9, 5, {"labelFontSize": 9.6}))

dfC = pd.DataFrame({"gene": C_genes * 2,
                    "grp": [C_groups[0]] * len(C_genes) + [C_groups[1]] * len(C_genes),
                    "pct": C_wt + C_del})
C_H = 175
chartC = alt.Chart(dfC).mark_bar().encode(
    x=alt.X("gene:N", sort=C_genes,
            scale=alt.Scale(domain=C_genes, range=[52.3, 306.7], paddingInner=0.1, paddingOuter=0.15),
            axis=alt.Axis(title=None, labelAngle=-90, labelFontSize=11.5, labelColor="#333333", tickSize=3,
                          tickWidth=1.2, domainWidth=1.8, labelPadding=2)),
    xOffset=alt.XOffset("grp:N", sort=C_groups, scale=alt.Scale(domain=C_groups, paddingInner=0, paddingOuter=0)),
    y=alt.Y("pct:Q", scale=alt.Scale(domain=[-4.7, 98.7], nice=False),
            axis=alt.Axis(values=[0, 25, 50, 75], offset=-52.3, labelFontSize=13, labelColor="#333333",
                          tickSize=5, tickWidth=1.5, domainWidth=1.8, labelPadding=2,
                          title="% of samples have the mutation", titleFontSize=13, titlePadding=4)),
    color=alt.Color("grp:N", scale=alt.Scale(domain=C_groups, range=C_cols),
                    legend=alt.Legend(orient="none", legendX=71.2, legendY=36, title=None, symbolType="square",
                                      symbolSize=210, symbolStrokeWidth=0, labelFontSize=13, labelFont=FONT,
                                      rowPadding=0.5, labelOffset=4, padding=0)),
).properties(width=COLW[2], height=C_H)

txtA = text_cell([(A_label[0], -49, -24.7, 18, "bold", "top"),
                  (A_label[1], -28.5, -24.7, 18, "normal", "top")], COLW[0], 49.3)
txtB = text_cell([(B_label[0], -49, -36.7, 18.5, "normal", "alphabetic")], COLW[0], 47.6)
txtC = text_cell([(C_label[0], -49, 7, 17, "bold", "alphabetic")], COLW[0], C_H)

# ---------------- grid ----------------
rows = [
    ([txtA, None, topA, None, None], 49.3),
    (None, 6.3),
    ([leftA, None, oncoA, None, qA], 92.7),
    (None, 3.5),
    ([None, None, afA, None, None], 45),
    (None, 3.5),
    ([None, None, specA, None, None], 63),
    (None, 113.7),
    ([txtB, None, topB, None, None], 47.6),
    (None, 7.4),
    ([leftB, None, oncoB, None, qB], 79.3),
    (None, 4.5),
    ([None, None, afB, None, None], 45),
    (None, 4.5),
    ([None, None, specB, None, None], 61.7),
    (None, 126.3),
    ([txtC, None, chartC, None, None], C_H),
]
cells = []
for content, h in rows:
    for j in range(5):
        c = content[j] if content else None
        cells.append(c if c is not None else spacer(COLW[j], h))

chart = alt.concat(*cells, columns=5, spacing=0, bounds="flush", align="each").resolve_scale(
    color="independent").resolve_legend(color="independent").properties(
    padding={"left": 0, "top": 2, "right": 0, "bottom": 0}
).configure_view(stroke=None).configure_axis(
    domainColor="black", tickColor="black", labelColor="black", titleColor="black",
    labelFont=FONT, titleFont=FONT, titleFontWeight="normal", grid=False
).configure_legend(labelFont=FONT, labelColor="black").configure_text(font=FONT)

chart.save("out.html", embed_options={"renderer": "svg", "actions": False})
